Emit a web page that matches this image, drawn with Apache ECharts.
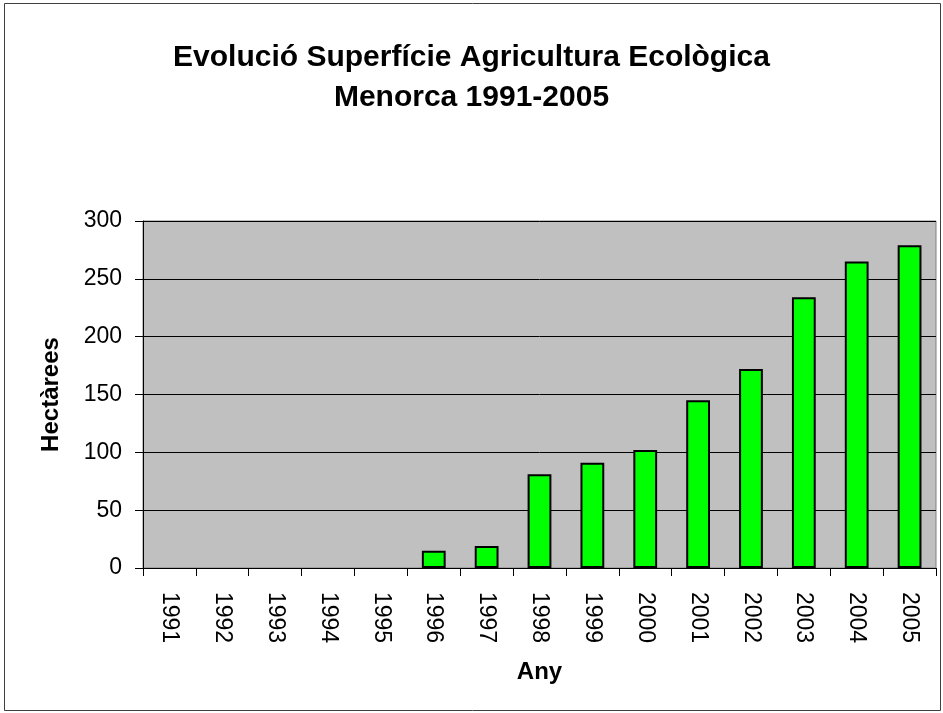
<!DOCTYPE html>
<html>
<head>
<meta charset="utf-8">
<script src="https://cdn.jsdelivr.net/npm/echarts@6/dist/echarts.min.js"></script>
<style>
html, body { margin: 0; padding: 0; background: #fff; }
#chart { width: 943px; height: 713px; }
</style>
</head>
<body>
<div id="chart"></div>
<script>
// years and hectares
var years = ['1991', '1992', '1993', '1994', '1995', '1996', '1997', '1998',
             '1999', '2000', '2001', '2002', '2003', '2004', '2005'];
var hectares = [0, 0, 0, 0, 0, 15, 19, 81, 91, 102, 145, 172, 234, 265, 279];
var yTicks = [0, 50, 100, 150, 200, 250, 300];

var font = 'Liberation Sans, Arial, sans-serif';
var chart = echarts.init(document.getElementById('chart'));

// zero-height bars get no outline, like in the original
var barData = hectares.map(function (v) {
    return v === 0 ? { value: v, itemStyle: { borderWidth: 0 } } : v;
});

chart.setOption({
    backgroundColor: '#fff',
    animation: false,
    title: {
        text: 'Evolució Superfície Agricultura Ecològica\nMenorca 1991-2005',
        left: 'center',
        top: 33,
        textStyle: {
            fontFamily: font,
            fontSize: 30,
            fontWeight: 'bold',
            color: '#000',
            lineHeight: 40
        }
    },
    graphic: [{
        type: 'rect',
        shape: { x: 4.5, y: 3.5, width: 936, height: 707 },
        style: { fill: 'none', stroke: '#404040', lineWidth: 1 },
        silent: true
    }],
    grid: {
        left: 143,
        right: 7,
        top: 221,
        bottom: 145,
        show: true,
        backgroundColor: '#c0c0c0',
        borderColor: '#808080',
        borderWidth: 1
    },
    xAxis: {
        type: 'category',
        data: years,
        name: 'Any',
        nameLocation: 'middle',
        nameGap: 92,
        nameTextStyle: { fontFamily: font, fontSize: 24, fontWeight: 'bold', color: '#000' },
        axisLine: { lineStyle: { color: '#000', width: 1 } },
        axisTick: { show: true, length: 8, alignWithLabel: false, lineStyle: { color: '#000' } },
        axisLabel: {
            rotate: -90,
            margin: 24,
            interval: 0,
            fontFamily: font,
            fontSize: 23,
            color: '#000'
        }
    },
    yAxis: {
        type: 'value',
        min: yTicks[0],
        max: yTicks[yTicks.length - 1],
        interval: 50,
        name: 'Hectàrees',
        nameLocation: 'middle',
        nameRotate: 90,
        nameGap: 80,
        nameTextStyle: { fontFamily: font, fontSize: 24, fontWeight: 'bold', color: '#000' },
        axisLine: { show: true, lineStyle: { color: '#000', width: 1 } },
        axisTick: { show: true, length: 8, lineStyle: { color: '#000' } },
        axisLabel: { margin: 21, fontFamily: font, fontSize: 23, color: '#000' },
        splitLine: { show: true, lineStyle: { color: '#000', width: 1 } }
    },
    series: [{
        type: 'bar',
        data: barData,
        barWidth: '45%',
        itemStyle: {
            color: '#00ff00',
            borderColor: '#000',
            borderWidth: 2
        }
    }]
});
</script>
</body>
</html>
